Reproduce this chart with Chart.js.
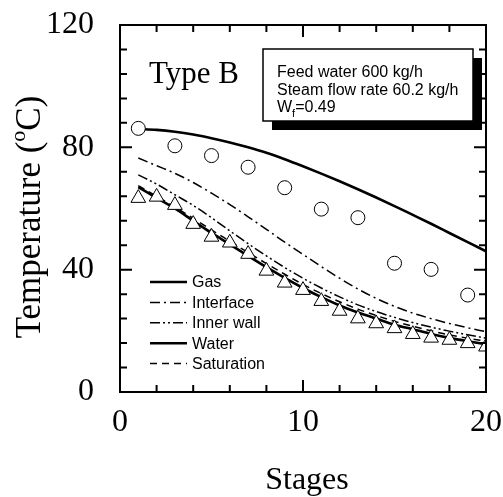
<!DOCTYPE html>
<html>
<head>
<meta charset="utf-8">
<script src="https://cdn.jsdelivr.net/npm/chart.js@4"></script>
<style>
  body { margin: 0; background: #fff; }
  canvas { display: block; }
</style>
</head>
<body>
<canvas id="tempChart" width="503" height="497"></canvas>
<script>
// stages 1..20 (model curves + water measurements)
const stages = [1, 2, 3, 4, 5, 6, 7, 8, 9, 10, 11, 12, 13, 14, 15, 16, 17, 18, 19, 20];
const gasModel = [86, 85.7, 85.1, 84.2, 83, 81.6, 80, 78.2, 76.1, 73.8, 71.4, 68.9, 66.3, 63.6, 60.8, 57.9, 55, 52, 49, 46];
const interfaceModel = [76.5, 74, 71.5, 68.5, 65, 61.3, 57.3, 53.2, 49, 45, 41, 37.2, 33.7, 30.6, 28, 25.8, 24, 22.4, 21, 19.7];
const innerWallModel = [71, 68, 64.5, 61, 57, 52.7, 48.5, 44.5, 40.7, 37.2, 34, 31.1, 28.5, 26.3, 24.4, 22.7, 21.2, 19.9, 18.7, 17.6];
const waterModel = [67, 63.5, 60, 56, 52, 48.3, 44.5, 40.8, 37.3, 34, 31, 28.3, 26, 24, 22, 20.5, 19, 17.7, 16.6, 15.6];
const saturationModel = [67.5, 64, 60.5, 56.8, 53, 49.3, 45.6, 42, 38.5, 35.2, 32.2, 29.5, 27.1, 25, 23.1, 21.5, 20, 18.7, 17.6, 16.6];
const waterMeasured = [63.4, 63.8, 61.1, 54.9, 50.7, 48.8, 45.1, 39.6, 35.7, 33.3, 29.7, 26.5, 24, 22.4, 20.8, 18.9, 17.7, 17, 15.9, 14.8];
// gas measurements on odd stages
const gasStages = [1, 3, 5, 7, 9, 11, 13, 15, 17, 19];
const gasMeasured = [86.2, 80.5, 77.3, 73.5, 66.8, 59.8, 57.0, 42.1, 40.1, 31.7];

const legendNames = ['Gas', 'Interface', 'Inner wall', 'Water', 'Saturation'];
const infoLines = ['Feed water 600 kg/h', 'Steam flow rate 60.2 kg/h'];

const pts = (xs, ys) => xs.map((v, i) => ({ x: v, y: ys[i] }));

// frame, inward ticks, legend, info box, titles
const decor = {
  id: 'decor',
  afterDraw(chart) {
    const { ctx, chartArea: a, scales: { x, y } } = chart;
    ctx.save();
    ctx.strokeStyle = '#000';
    ctx.lineWidth = 2;
    ctx.strokeRect(a.left, a.top, a.right - a.left, a.bottom - a.top);
    ctx.beginPath();
    for (let v = 0; v <= 20; v += 2) {
      const px = x.getPixelForValue(v);
      const len = v % 10 === 0 ? 12 : 7;
      ctx.moveTo(px, a.bottom); ctx.lineTo(px, a.bottom - len);
      ctx.moveTo(px, a.top); ctx.lineTo(px, a.top + len);
    }
    for (let v = 0; v <= 120; v += 8) {
      const py = y.getPixelForValue(v);
      const len = v % 40 === 0 ? 12 : 7;
      ctx.moveTo(a.left, py); ctx.lineTo(a.left + len, py);
      ctx.moveTo(a.right, py); ctx.lineTo(a.right - len, py);
    }
    ctx.stroke();

    // legend (bottom left inside plot)
    ctx.font = '16px "Liberation Sans", Arial, sans-serif';
    ctx.fillStyle = '#000';
    ctx.textBaseline = 'middle';
    const lx = a.left + 30, ly = a.top + 257;
    const legendSets = chart.data.datasets.filter(d => d.label && legendNames.includes(d.label));
    legendNames.forEach((name, i) => {
      const ds = legendSets.find(d => d.label === name);
      const yy = ly + i * 20.4;
      ctx.beginPath();
      ctx.lineWidth = ds.borderWidth;
      ctx.setLineDash(ds.borderDash || []);
      ctx.moveTo(lx, yy); ctx.lineTo(lx + 37, yy);
      ctx.stroke();
      ctx.setLineDash([]);
      ctx.fillText(name, lx + 42, yy + 1);
    });

    // Type B
    ctx.textBaseline = 'alphabetic';
    ctx.font = '31px "Liberation Serif", "Times New Roman", serif';
    ctx.fillText('Type B', a.left + 29, a.top + 58);

    // info box with shadow
    const bx = a.left + 143, by = a.top + 24, bw = 210, bh = 72;
    ctx.fillStyle = '#000';
    ctx.fillRect(bx + 9, by + 9, bw, bh);
    ctx.fillStyle = '#fff';
    ctx.fillRect(bx, by, bw, bh);
    ctx.lineWidth = 1.5;
    ctx.strokeRect(bx, by, bw, bh);
    ctx.fillStyle = '#000';
    ctx.font = '16px "Liberation Sans", Arial, sans-serif';
    infoLines.forEach((t, i) => ctx.fillText(t, bx + 14, by + 28 + i * 17.5));
    let tx = bx + 14;
    const ty = by + 63;
    ctx.fillText('W', tx, ty);
    tx += ctx.measureText('W').width;
    ctx.font = '11px "Liberation Sans", Arial, sans-serif';
    ctx.fillText('f', tx, ty + 5);
    tx += ctx.measureText('f').width;
    ctx.font = '16px "Liberation Sans", Arial, sans-serif';
    ctx.fillText('=0.49', tx, ty);

    // axis titles
    ctx.font = '32px "Liberation Serif", "Times New Roman", serif';
    ctx.textAlign = 'center';
    ctx.fillText('Stages', (a.left + a.right) / 2 + 4, 489);

    ctx.save();
    ctx.translate(40, 217);
    ctx.rotate(-Math.PI / 2);
    const big = '35px "Liberation Serif", "Times New Roman", serif';
    const small = '22px "Liberation Serif", "Times New Roman", serif';
    ctx.textAlign = 'left';
    ctx.font = big;
    const p1 = 'Temperature (', p3 = 'C)';
    const w1 = ctx.measureText(p1).width, w3 = ctx.measureText(p3).width;
    ctx.font = small;
    const w2 = ctx.measureText('o').width;
    let sx = -(w1 + w2 + w3) / 2;
    ctx.font = big;
    ctx.fillText(p1, sx, 0);
    sx += w1;
    ctx.font = small;
    ctx.fillText('o', sx, -15);
    sx += w2;
    ctx.font = big;
    ctx.fillText(p3, sx, 0);
    ctx.restore();

    ctx.restore();
  }
};

Chart.defaults.font.family = '"Liberation Serif", "Times New Roman", serif';
Chart.defaults.color = '#000';

const ctx1 = document.getElementById('tempChart');
const tempChart = new Chart(ctx1, {
  type: 'line',
  data: {
    datasets: [
      {
        data: pts(gasStages, gasMeasured),
        showLine: false,
        pointStyle: 'circle',
        pointRadius: 7,
        pointBorderWidth: 1,
        pointBorderColor: '#000',
        pointBackgroundColor: '#fff'
      },
      {
        data: pts(stages, waterMeasured),
        showLine: false,
        pointStyle: 'triangle',
        pointRadius: 8.5,
        pointBorderWidth: 1,
        pointBorderColor: '#000',
        pointBackgroundColor: '#fff',
        clip: 0
      },
      {
        label: 'Gas',
        data: pts(stages, gasModel),
        borderColor: '#000',
        borderWidth: 2.6,
        pointRadius: 0,
        cubicInterpolationMode: 'monotone'
      },
      {
        label: 'Interface',
        data: pts(stages, interfaceModel),
        borderColor: '#000',
        borderWidth: 1.5,
        borderDash: [10, 4, 2, 4],
        pointRadius: 0,
        cubicInterpolationMode: 'monotone'
      },
      {
        label: 'Inner wall',
        data: pts(stages, innerWallModel),
        borderColor: '#000',
        borderWidth: 1.5,
        borderDash: [10, 3, 2, 3, 2, 3],
        pointRadius: 0,
        cubicInterpolationMode: 'monotone'
      },
      {
        label: 'Water',
        data: pts(stages, waterModel),
        borderColor: '#000',
        borderWidth: 2.6,
        pointRadius: 0,
        cubicInterpolationMode: 'monotone'
      },
      {
        label: 'Saturation',
        data: pts(stages, saturationModel),
        borderColor: '#000',
        borderWidth: 1.5,
        borderDash: [7, 5],
        pointRadius: 0,
        cubicInterpolationMode: 'monotone'
      }
    ]
  },
  options: {
    responsive: false,
    animation: false,
    layout: { padding: { top: 25, right: 17, left: 0, bottom: 0 } },
    plugins: {
      legend: { display: false },
      tooltip: { enabled: false }
    },
    scales: {
      x: {
        type: 'linear',
        min: 0,
        max: 20,
        grid: { display: false },
        border: { display: false },
        ticks: { stepSize: 10, padding: 3, font: { size: 32 }, maxRotation: 0 },
        afterFit: (scale) => {
          scale.height = 105;
          scale.paddingLeft = 0;
          scale.paddingRight = 0;
        }
      },
      y: {
        min: 0,
        max: 120,
        grid: { display: false },
        border: { display: false },
        ticks: { stepSize: 40, padding: 18, font: { size: 32 } },
        afterFit: (scale) => {
          scale.width = 120;
          scale.paddingTop = 0;
          scale.paddingBottom = 0;
        }
      }
    }
  },
  plugins: [decor]
});
</script>
</body>
</html>
